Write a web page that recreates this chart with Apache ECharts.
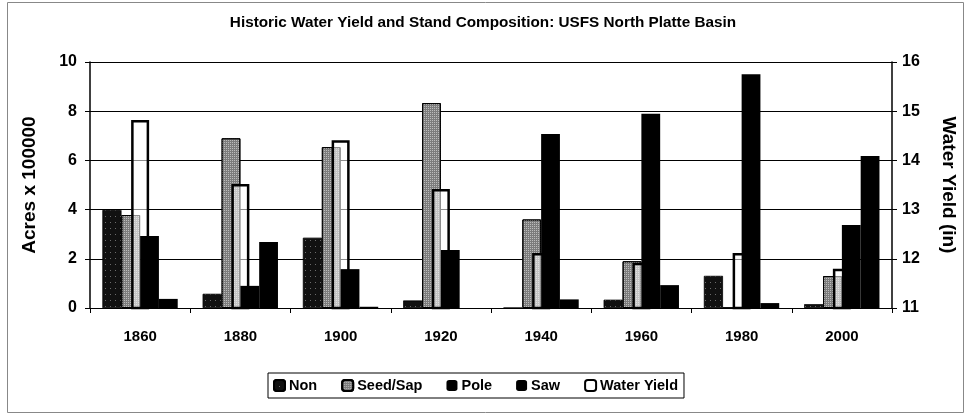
<!DOCTYPE html>
<html>
<head>
<meta charset="utf-8">
<script src="https://cdn.jsdelivr.net/npm/echarts@6/dist/echarts.min.js"></script>
<style>
  html, body { margin: 0; padding: 0; background: #fff; }
  #chart { width: 966px; height: 414px; }
</style>
</head>
<body>
<div id="chart"></div>
<script>
// years on the x axis
var years = ['1860', '1880', '1900', '1920', '1940', '1960', '1980', '2000'];
// stand composition, acres x 100000
var nonVals  = [3.98, 0.57, 2.85, 0.30, 0.00, 0.33, 1.30, 0.15];
var seedVals = [3.78, 6.90, 6.54, 8.33, 3.60, 1.90, 0.00, 1.30];
var poleVals = [2.93, 0.90, 1.58, 2.36, 7.07, 7.90, 9.50, 3.37];
var sawVals  = [0.37, 2.68, 0.05, 0.00, 0.35, 0.93, 0.20, 6.18];
// water yield, inches (right axis)
var waterVals = [14.82, 13.52, 14.41, 13.42, 12.12, 11.92, 12.12, 11.80];

var font = 'Liberation Sans, Arial, sans-serif';
var chart = echarts.init(document.getElementById('chart'));

var option = {
  backgroundColor: '#fff',
  animation: false,
  title: {
    text: 'Historic Water Yield and Stand Composition: USFS North Platte Basin',
    left: 'center',
    top: 10,
    textStyle: { fontFamily: font, fontSize: 15.3, fontWeight: 'bold', color: '#000' }
  },
  legend: {
    bottom: 16,
    left: 268,
    data: ['Non', 'Seed/Sap', 'Pole', 'Saw', 'Water Yield'],
    itemWidth: 11,
    itemHeight: 11,
    itemGap: 24,
    padding: [5, 6, 5, 5],
    borderColor: '#000',
    borderWidth: 1,
    textStyle: { fontFamily: font, fontSize: 14.5, fontWeight: 'bold', color: '#000', padding: [0, 0, 0, -1] }
  },
  graphic: [{
    type: 'rect',
    shape: { x: 7.5, y: 2.5, width: 956, height: 410 },
    style: { fill: 'none', stroke: '#888', lineWidth: 1 },
    silent: true
  }],
  grid: { left: 90, right: 69, top: 62, height: 246 },
  xAxis: [{
    type: 'category',
    data: years,
    axisLine: { lineStyle: { color: '#000', width: 1 } },
    axisTick: { show: true, length: 5, lineStyle: { color: '#000' } },
    axisLabel: { fontFamily: font, fontSize: 15, fontWeight: 'bold', color: '#000', margin: 21 }
  }, {
    type: 'category',
    data: years,
    position: 'bottom',
    show: false
  }],
  yAxis: [{
    type: 'value',
    min: 0, max: 10, interval: 2,
    name: 'Acres x 100000',
    nameLocation: 'middle',
    nameGap: 51,
    nameTextStyle: { fontFamily: font, fontSize: 19, fontWeight: 'bold', color: '#000' },
    axisLine: { show: true, lineStyle: { color: '#000', width: 1.5 } },
    axisTick: { show: true, length: 5, lineStyle: { color: '#000' } },
    axisLabel: { fontFamily: font, fontSize: 16, fontWeight: 'bold', color: '#000', margin: 13 },
    splitLine: { show: true, lineStyle: { color: '#000', width: 1 } }
  }, {
    type: 'value',
    min: 11, max: 16, interval: 1,
    name: 'Water Yield (in)',
    nameLocation: 'middle',
    nameRotate: -90,
    nameGap: 47,
    nameTextStyle: { fontFamily: font, fontSize: 19, fontWeight: 'bold', color: '#000' },
    axisLine: { show: true, lineStyle: { color: '#000', width: 1.5 } },
    axisTick: { show: true, length: 5, lineStyle: { color: '#000' } },
    axisLabel: { fontFamily: font, fontSize: 16, fontWeight: 'bold', color: '#000', margin: 10 },
    splitLine: { show: false }
  }],
  series: [{
    name: 'Non',
    type: 'bar',
    data: nonVals,
    barGap: '0%',
    barCategoryGap: '25%',
    z: 2,
    itemStyle: {
      color: '#111',
      borderColor: '#000',
      borderWidth: 0.5,
      decal: { symbol: 'rect', symbolSize: 1, dashArrayX: [1, 4], dashArrayY: [1, 5], color: 'rgba(200,200,200,0.5)', rotation: 0 }
    }
  }, {
    name: 'Seed/Sap',
    type: 'bar',
    data: seedVals,
    z: 2,
    itemStyle: {
      color: '#7c7c7c',
      borderColor: '#000',
      borderWidth: 1,
      decal: { symbol: 'rect', symbolSize: 1, dashArrayX: [1, 1], dashArrayY: [1, 1], color: 'rgba(215,215,215,0.7)', rotation: 0 }
    }
  }, {
    name: 'Pole',
    type: 'bar',
    data: poleVals,
    z: 4,
    itemStyle: { color: '#000' }
  }, {
    name: 'Saw',
    type: 'bar',
    data: sawVals,
    z: 4,
    itemStyle: { color: '#000' }
  }, {
    name: 'Water Yield',
    type: 'bar',
    xAxisIndex: 1,
    yAxisIndex: 1,
    data: waterVals,
    barWidth: 18,
    z: 3,
    itemStyle: { color: 'rgba(255,255,255,0.55)', borderColor: '#000', borderWidth: 2.5 }
  }]
};

chart.setOption(option);
</script>
</body>
</html>
